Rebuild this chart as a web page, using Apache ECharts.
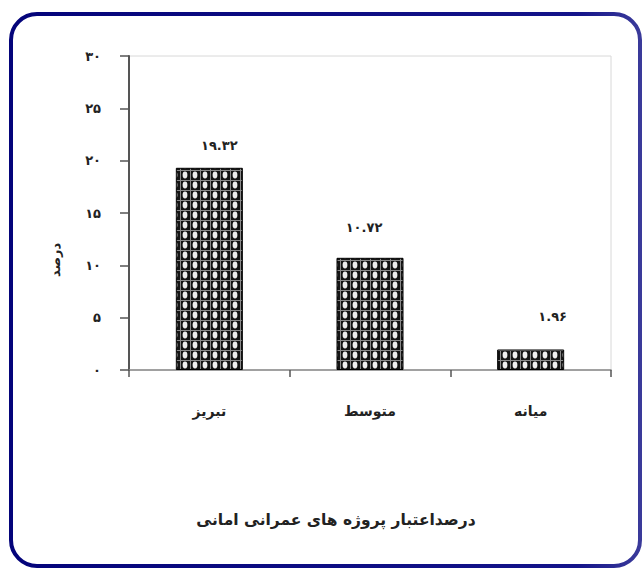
<!DOCTYPE html>
<html>
<head>
<meta charset="utf-8">
<script src="https://cdn.jsdelivr.net/npm/echarts@6/dist/echarts.min.js"></script>
<style>
html,body{margin:0;padding:0;background:#fff;}
#chart{width:644px;height:571px;}
</style>
</head>
<body>
<div id="chart"></div>
<script>
// ---- data ----
var categories = ['تبریز', 'متوسط', 'میانه'];
var values = [19.32, 10.72, 1.96];
var valueLabels = ['۱۹.۳۲', '۱۰.۷۲', '۱.۹۶'];
var yTickValues = [0, 5, 10, 15, 20, 25, 30];
var yTickLabels = ['۰', '۵', '۱۰', '۱۵', '۲۰', '۲۵', '۳۰'];
var chartTitle = 'درصداعتبار پروژه های عمرانی امانی';
var yAxisTitle = 'درصد';

// ---- pattern for bars ----
function makePattern() {
  var c = document.createElement('canvas');
  c.width = 10; c.height = 10;
  var g = c.getContext('2d');
  g.fillStyle = '#151515';
  g.fillRect(0, 0, 10, 10);
  g.fillStyle = '#eeeeee';
  g.beginPath();
  g.ellipse(5, 5, 2.4, 3.4, 0, 0, Math.PI * 2);
  g.fill();
  g.fillStyle = '#8a8a8a';
  g.fillRect(0, 0, 10, 1);
  g.fillRect(0, 0, 1, 10);
  return c;
}
var pattern = { image: makePattern(), repeat: 'repeat' };

var labelOffsets = [[10, -6], [-6, -14], [22, -16]];
var seriesData = values.map(function (v, i) {
  return {
    value: v,
    label: { offset: labelOffsets[i] }
  };
});

var FONT = 'DejaVu Sans';
var chart = echarts.init(document.getElementById('chart'), null, { renderer: 'svg' });
chart.setOption({
  backgroundColor: '#fff',
  animation: false,
  grid: {
    left: 129, top: 56, right: 33, bottom: 201,
    show: true, borderColor: '#d8d8d8', borderWidth: 1, backgroundColor: 'transparent'
  },
  xAxis: {
    type: 'category',
    data: categories,
    axisLine: { lineStyle: { color: '#888', width: 1.5 } },
    axisTick: { show: true, length: 7, lineStyle: { color: '#555', width: 1.5 } },
    axisLabel: { margin: 34, fontFamily: FONT, fontSize: 14, fontWeight: 'bold', color: '#222' },
    splitLine: { show: false }
  },
  yAxis: {
    type: 'value',
    min: 0, max: 30, interval: 5,
    axisLine: { show: true, lineStyle: { color: '#555', width: 2 } },
    axisTick: { show: true, length: 9, lineStyle: { color: '#555', width: 1.5 } },
    axisLabel: {
      margin: 28, fontFamily: FONT, fontSize: 13, fontWeight: 'bold', color: '#222',
      formatter: function (v) {
        var i = yTickValues.indexOf(v);
        return i >= 0 ? yTickLabels[i] : '';
      }
    },
    splitLine: { show: false }
  },
  series: [{
    type: 'bar',
    data: seriesData,
    barWidth: 67,
    itemStyle: { color: pattern, borderColor: '#000', borderWidth: 1 },
    label: {
      show: true, position: 'top', distance: 10,
      fontFamily: FONT, fontSize: 13, fontWeight: 'bold', color: '#222',
      formatter: function (p) { return valueLabels[p.dataIndex]; }
    }
  }],
  graphic: [
    {
      type: 'rect', z: 100, silent: true,
      shape: { x: 11, y: 14, width: 629, height: 552, r: 26 },
      style: {
        fill: 'none', lineWidth: 4,
        stroke: new echarts.graphic.LinearGradient(0, 0, 1, 0, [
          { offset: 0, color: '#04047a' },
          { offset: 0.9, color: '#14148a' },
          { offset: 1, color: '#3a3a9a' }
        ])
      }
    },
    {
      type: 'text', z: 100,
      x: 55, y: 260, rotation: Math.PI / 2,
      style: {
        text: yAxisTitle, fontFamily: FONT, fontSize: 13, fontWeight: 'bold',
        fill: '#222', align: 'center', verticalAlign: 'middle'
      }
    },
    {
      type: 'text', z: 100,
      x: 336, y: 520,
      style: {
        text: chartTitle, fontFamily: FONT, fontSize: 15.5, fontWeight: 'bold',
        fill: '#222', align: 'center', verticalAlign: 'middle'
      }
    }
  ]
});
</script>
</body>
</html>
